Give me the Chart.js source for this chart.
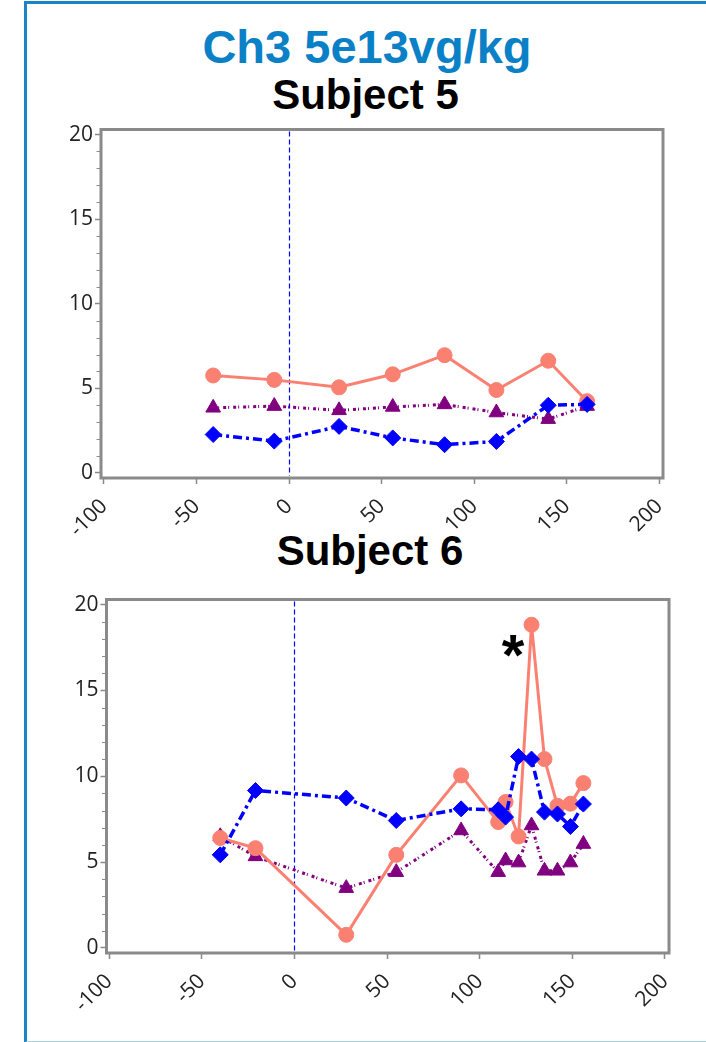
<!DOCTYPE html>
<html><head><meta charset="utf-8">
<script src="https://cdn.jsdelivr.net/npm/chart.js@4/dist/chart.umd.min.js"></script>
<style>
html,body{margin:0;padding:0;background:#fff;}
body{width:706px;height:1042px;overflow:hidden;position:relative;font-family:"Liberation Sans",Arial,sans-serif;}
#frame{position:absolute;left:24px;top:1px;width:800px;height:1037px;border-left:3px solid #1a84c6;border-top:3px solid #1a84c6;border-bottom:2px solid #a6d2e6;}
.t{position:absolute;font-weight:bold;line-height:1;white-space:nowrap;text-align:center;width:600px;}
canvas{position:absolute;left:0;}
</style></head>
<body>
<div id="frame"></div>
<div class="t" style="left:67px;top:23px;font-size:47px;color:#0a80c6;">Ch3 5e13vg/kg</div>
<div class="t" style="left:65.5px;top:73.5px;font-size:42px;color:#000;">Subject 5</div>
<div class="t" style="left:70px;top:529.5px;font-size:42px;color:#000;">Subject 6</div>
<canvas id="c1" width="706" height="430" style="top:120px"></canvas>
<canvas id="c2" width="706" height="452" style="top:590px"></canvas>
<script>
// ---- data ----
const xTicks = [-100, -50, 0, 50, 100, 150, 200];
const yTicks = [0, 5, 10, 15, 20];

const days5 = [-41, -8, 27, 56, 84, 112, 140, 161];
const circle5 = [5.76, 5.5, 5.06, 5.83, 6.96, 4.9, 6.63, 4.24];
const triangle5 = [3.85, 3.95, 3.7, 3.9, 4.05, 3.57, 3.18, 3.95];
const diamond5 = [2.27, 1.88, 2.75, 2.07, 1.67, 1.86, 4.0, 4.05];

const days6 = [-40, -21, 28, 55, 90, 110, 114, 121, 128, 135, 142, 149, 156];
const circle6 = [6.4, 5.81, 0.76, 5.42, 10.05, 7.33, 8.5, 6.49, 18.83, 11.0, 8.28, 8.4, 9.6];
const diamond6 = [5.42, 9.17, 8.73, 7.42, 8.1, 8.05, 7.62, 11.15, 11.0, 7.91, 7.8, 7.07, 8.38];
const triangle6 = [6.5, 5.33, 3.48, 4.41, 6.84, 4.41, 5.09, 4.97, 7.13, 4.49, 4.49, 4.97, 6.05];

const notes5 = [];
const notes6 = [{x: 118, y: 17.8, text: '*'}];

Chart.defaults.font.family = '"Open Sans", sans-serif';
Chart.defaults.font.size = 21;
Chart.defaults.color = '#222';

// ---- chart builder ----
function pts(days, vals){ return days.map((d,i)=>({x:d, y:vals[i]})); }

function makeChart(id, days, circ, diam, tri, notes, g){
  const framePlugin = {
    id:'frame'+id,
    beforeDatasetsDraw(chart){
      const {ctx, chartArea:a, scales:{x}} = chart;
      const px = Math.round(x.getPixelForValue(0))+0.5;
      ctx.save();
      ctx.strokeStyle = '#0000ff'; ctx.lineWidth = 1.2; ctx.setLineDash([5,3]);
      ctx.beginPath(); ctx.moveTo(px, a.top+2); ctx.lineTo(px, a.bottom-2); ctx.stroke();
      ctx.restore();
    },
    afterDraw(chart){
      const {ctx, chartArea:a, scales:{y}} = chart;
      ctx.save();
      ctx.strokeStyle = '#8a8a8a'; ctx.lineWidth = 1;
      for(let v=1; v<20; v++){
        if(v%5===0) continue;
        const py = Math.round(y.getPixelForValue(v))+0.5;
        ctx.beginPath(); ctx.moveTo(a.left-4.5, py); ctx.lineTo(a.left-1, py); ctx.stroke();
      }
      ctx.strokeStyle = '#8a8a8a'; ctx.lineWidth = 3;
      ctx.strokeRect(a.left, a.top, a.right-a.left, a.bottom-a.top);
      ctx.fillStyle = '#000';
      ctx.font = 'bold 58px "Liberation Sans", Arial, sans-serif';
      ctx.textAlign = 'center'; ctx.textBaseline = 'alphabetic';
      notes.forEach(n=>{
        ctx.fillText(n.text, chart.scales.x.getPixelForValue(n.x), y.getPixelForValue(n.y) + 0.56*58);
      });
      ctx.restore();
    }
  };
  const tickFont = {family:'"Open Sans", sans-serif', size:21};
  return new Chart(document.getElementById(id), {
    type:'scatter',
    data:{datasets:[
      {label:'diamond', data:pts(days, diam), showLine:true, borderColor:'#0000ff', backgroundColor:'#0000ff',
       borderWidth:3.5, borderDash:[9,4,3,4], pointStyle:'rectRot', pointRadius:8, pointBorderWidth:1},
      {label:'circle', data:pts(days, circ), showLine:true, borderColor:'#fa8072', backgroundColor:'#fa8072',
       borderWidth:3, pointStyle:'circle', pointRadius:7.5, pointBorderWidth:1},
      {label:'triangle', data:pts(days, tri), showLine:true, borderColor:'#800080', backgroundColor:'#800080',
       borderWidth:3, borderDash:[3,2,1,4], pointStyle:'triangle', pointRadius:8.5, pointBorderWidth:1}
    ]},
    options:{
      responsive:false, animation:false, devicePixelRatio:1,
      layout:{padding:{top:g.top, right:g.right, bottom:0, left:0}},
      plugins:{legend:{display:false}, tooltip:{enabled:false}},
      elements:{line:{tension:0}},
      scales:{
        x:{type:'linear', min:g.xmin, max:g.xmax,
          afterBuildTicks:s=>{s.ticks = xTicks.map(v=>({value:v}));},
          afterFit:s=>{s.height = g.xh; s.paddingLeft = 0; s.paddingRight = 0;},
          border:{display:false},
          grid:{drawOnChartArea:false, drawTicks:true, tickLength:6, tickColor:'#8a8a8a', tickWidth:1.5},
          ticks:{autoSkip:false, minRotation:45, maxRotation:45, padding:10, color:'#222', font:tickFont}
        },
        y:{type:'linear', min:-0.3, max:20.3,
          afterBuildTicks:s=>{s.ticks = yTicks.map(v=>({value:v}));},
          afterFit:s=>{s.width = g.left; s.paddingTop = 0; s.paddingBottom = 0;},
          border:{display:false},
          grid:{drawOnChartArea:false, drawTicks:true, tickLength:6, tickColor:'#8a8a8a', tickWidth:1.5},
          ticks:{padding:2, color:'#222', font:tickFont}
        }
      }
    },
    plugins:[framePlugin]
  });
}

makeChart('c1', days5, circle5, diamond5, triangle5, notes5,
  {top:4, right:43, left:101, xh:72, xmin:-101.6, xmax:202});
makeChart('c2', days6, circle6, diamond6, triangle6, notes6,
  {top:9.5, right:37, left:106.5, xh:89, xmin:-101.4, xmax:202.2});
</script>
</body></html>
